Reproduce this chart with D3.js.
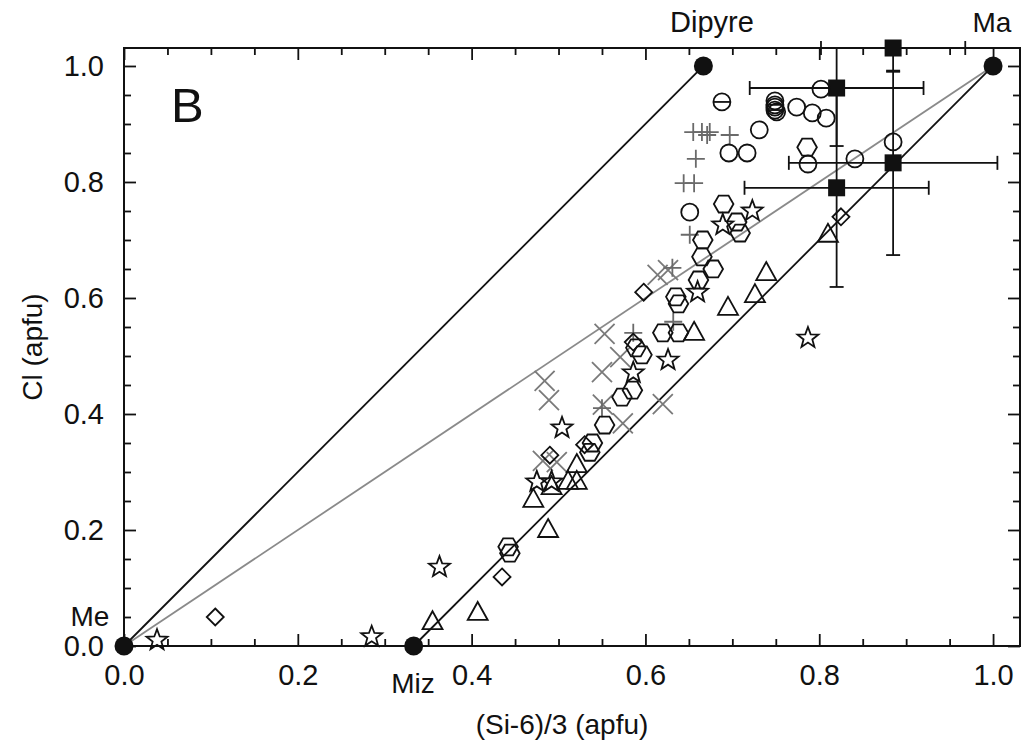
<!DOCTYPE html>
<html><head><meta charset="utf-8">
<script src="https://cdn.jsdelivr.net/npm/d3@7"></script>
<style>body{margin:0;background:#fff}svg text{font-family:"Liberation Sans",Arial,sans-serif;fill:#111}</style>
</head><body><svg id="c" width="1021" height="747"></svg>
<script>
// ---- data (x = (Si-6)/3 apfu, y = Cl apfu) ----
const endMembers = [
  {name:"Me", x:0, y:0}, {name:"Miz", x:0.3333, y:0},
  {name:"Dipyre", x:0.6667, y:1.0}, {name:"Ma", x:1.0, y:1.0}
];
const blackLines = [[0,0,0.6667,1.0],[0.3333,0,1.0,1.0]];
const grayLines = [[0,0,1.0,1.0]];
const circleX = [0.802,0.749,0.749,0.751,0.774,0.792,0.808,0.731,0.696,0.717,0.787,0.651,0.841,0.885];
const circleY = [0.960,0.940,0.929,0.921,0.929,0.919,0.910,0.890,0.850,0.850,0.831,0.748,0.840,0.869];
const barCircleX = [0.688,0.749,0.749];
const barCircleY = [0.938,0.933,0.924];
const hexX = [0.786,0.690,0.705,0.709,0.666,0.665,0.678,0.661,0.635,0.638,0.620,0.638,0.596,0.589,0.585,0.573,0.553,0.539,0.536,0.442,0.444];
const hexY = [0.860,0.762,0.731,0.712,0.700,0.671,0.650,0.631,0.602,0.590,0.540,0.540,0.502,0.514,0.441,0.429,0.381,0.350,0.334,0.171,0.160];
const triX = [0.810,0.739,0.726,0.695,0.656,0.521,0.511,0.521,0.492,0.471,0.488,0.355,0.407];
const triY = [0.709,0.643,0.605,0.583,0.540,0.312,0.283,0.283,0.274,0.252,0.200,0.041,0.057];
const diaX = [0.825,0.598,0.586,0.490,0.530,0.435,0.105];
const diaY = [0.740,0.610,0.524,0.329,0.347,0.119,0.050];
const starX = [0.038,0.285,0.363,0.787,0.723,0.689,0.660,0.626,0.586,0.504,0.475,0.492];
const starY = [0.010,0.016,0.136,0.531,0.750,0.726,0.610,0.493,0.471,0.376,0.283,0.283];
const crossX = [0.553,0.484,0.489,0.571,0.550,0.551,0.574,0.614,0.626,0.482,0.498,0.620];
const crossY = [0.538,0.457,0.424,0.498,0.472,0.416,0.384,0.640,0.648,0.319,0.317,0.417];
const plusX = [0.655,0.665,0.671,0.674,0.697,0.658,0.644,0.656,0.651,0.631,0.632,0.586,0.550];
const plusY = [0.886,0.886,0.881,0.886,0.881,0.840,0.798,0.798,0.709,0.652,0.559,0.540,0.410];
const sqX = [0.820,0.820,0.885,0.885];
const sqY = [0.962,0.790,0.833,1.031];
const sqXErr = [0.100,0.106,0.120,0.083];
const sqYErr = [0.100,0.171,0.159,0.041];
const majorTicks = [0,0.2,0.4,0.6,0.8,1.0];
const minorTicks = [0.05,0.1,0.15,0.25,0.3,0.35,0.45,0.5,0.55,0.65,0.7,0.75,0.85,0.9,0.95];
const xTitle = "(Si-6)/3 (apfu)", yTitle = "Cl (apfu)", panel = "B";

// ---- layout ----
const L=124,R=1020,T=48,B=646, dmax=1.031;
const svg=d3.select("#c");
const x=d3.scaleLinear().domain([0,dmax]).range([L,R]);
const y=d3.scaleLinear().domain([0,dmax]).range([B,T]);
const zip=(a,b)=>a.map((v,i)=>[v,b[i]]);

// lines
const g=svg.append("g");
grayLines.forEach(l=>g.append("line").attr("x1",x(l[0])).attr("y1",y(l[1])).attr("x2",x(l[2])).attr("y2",y(l[3])).attr("stroke","#8a8a8a").attr("stroke-width",1.8));
blackLines.forEach(l=>g.append("line").attr("x1",x(l[0])).attr("y1",y(l[1])).attr("x2",x(l[2])).attr("y2",y(l[3])).attr("stroke","#111").attr("stroke-width",1.8));

// axes (ticks inward on all sides)
function axes(){
  const fmt=d3.format(".1f");
  const ax=[
    [d3.axisBottom(x),`translate(0,${B})`,-12,-7,true,18],
    [d3.axisTop(x),`translate(0,${T})`,-12,-7,false,0],
    [d3.axisLeft(y),`translate(${L},0)`,-12,-7,true,20],
    [d3.axisRight(y),`translate(${R},0)`,-12,-7,false,0]
  ];
  ax.forEach(([a,tr,maj,mn,lab,pad])=>{
    const gm=svg.append("g").attr("transform",tr).call(a.tickValues(minorTicks).tickSize(mn).tickFormat(""));
    const gM=svg.append("g").attr("transform",tr).call(a.tickValues(majorTicks).tickSize(maj).tickPadding(pad).tickFormat(lab?fmt:""));
    [gm,gM].forEach(gg=>{gg.select(".domain").remove();gg.selectAll("line").attr("stroke","#111").attr("stroke-width",1.8);});
    gM.selectAll("text").attr("font-size",29).attr("fill","#111").attr("font-family","Liberation Sans, Arial, sans-serif");
  });
  svg.append("rect").attr("x",L).attr("y",T).attr("width",R-L).attr("height",B-T).attr("fill","none").attr("stroke","#111").attr("stroke-width",2);
}
axes();

// error bars + squares
const eb=svg.append("g").attr("stroke","#111").attr("stroke-width",1.8);
const cap=7;
sqX.forEach((cx,i)=>{
  const cy=sqY[i], xe=sqXErr[i], ye=sqYErr[i];
  const x0=x(cx-xe), x1=x(cx+xe), px=x(cx), py=y(cy);
  eb.append("line").attr("x1",x0).attr("x2",x1).attr("y1",py).attr("y2",py);
  eb.append("line").attr("x1",x0).attr("x2",x0).attr("y1",py-cap).attr("y2",py+cap);
  eb.append("line").attr("x1",x1).attr("x2",x1).attr("y1",py-cap).attr("y2",py+cap);
  const top=Math.min(cy+ye,dmax), bot=cy-ye;
  eb.append("line").attr("x1",px).attr("x2",px).attr("y1",y(top)).attr("y2",y(bot));
  if(cy+ye<=dmax) eb.append("line").attr("x1",px-cap).attr("x2",px+cap).attr("y1",y(cy+ye)).attr("y2",y(cy+ye));
  eb.append("line").attr("x1",px-cap).attr("x2",px+cap).attr("y1",y(bot)).attr("y2",y(bot));
});
svg.append("g").selectAll("rect").data(zip(sqX,sqY)).join("rect")
  .attr("x",d=>x(d[0])-8.5).attr("y",d=>y(d[1])-8.5).attr("width",17).attr("height",17).attr("fill","#111");

// marker shapes
function poly(pts){return "M"+pts.map(p=>p.join(",")).join("L")+"Z";}
const hexPath=()=>{const r=9.8;return poly(d3.range(6).map(k=>[r*Math.cos(k*Math.PI/3),r*Math.sin(k*Math.PI/3)]));};
const triPath=()=>poly([[0,-11],[10,7],[-10,7]]);
const diaPath=()=>poly([[0,-8.5],[8.5,0],[0,8.5],[-8.5,0]]);
const starPath=()=>{const ro=11,ri=4.6;return poly(d3.range(10).map(k=>{const r=k%2?ri:ro,a=-Math.PI/2+k*Math.PI/5;return [r*Math.cos(a),r*Math.sin(a)];}));};
const crossPath=()=>"M-10,-10L10,10M-10,10L10,-10";
const plusPath=()=>"M-9,0L9,0M0,-9L0,9";

function pts(X,Y,path,stroke,fill){
  svg.append("g").selectAll("path").data(zip(X,Y)).join("path")
    .attr("d",path()).attr("transform",d=>`translate(${x(d[0])},${y(d[1])})`)
    .attr("fill",fill||"none").attr("stroke",stroke).attr("stroke-width",1.8);
}
pts(crossX,crossY,crossPath,"#7a7a7a");
pts(plusX,plusY,plusPath,"#6a6a6a");
pts(triX,triY,triPath,"#111");
pts(diaX,diaY,diaPath,"#111");
pts(hexX,hexY,hexPath,"#111");
pts(starX,starY,starPath,"#111");
svg.append("g").selectAll("circle").data(zip(circleX,circleY)).join("circle")
  .attr("cx",d=>x(d[0])).attr("cy",d=>y(d[1])).attr("r",8.5).attr("fill","none").attr("stroke","#111").attr("stroke-width",1.8);
const bc=svg.append("g").attr("stroke","#111").attr("stroke-width",1.8).attr("fill","none");
zip(barCircleX,barCircleY).forEach(d=>{
  bc.append("circle").attr("cx",x(d[0])).attr("cy",y(d[1])).attr("r",8.5);
  bc.append("line").attr("x1",x(d[0])-8.5).attr("x2",x(d[0])+8.5).attr("y1",y(d[1])).attr("y2",y(d[1]));
});

// end members
svg.append("g").selectAll("circle").data(endMembers).join("circle")
  .attr("cx",d=>x(d.x)).attr("cy",d=>y(d.y)).attr("r",9.5).attr("fill","#111");

// labels
const t=(s,px,py,size,anchor)=>svg.append("text").text(s).attr("x",px).attr("y",py).attr("font-size",size).attr("text-anchor",anchor||"middle");
t("Dipyre",712,32,29); t("Ma",992,32,28); t("Me",90,626,28); t("Miz",413,693,28);
t(panel,171,122,49,"start");
t(xTitle,562,734,28);
svg.append("text").text(yTitle).attr("transform",`translate(42,${(T+B)/2}) rotate(-90)`).attr("font-size",28).attr("text-anchor","middle");
</script></body></html>
